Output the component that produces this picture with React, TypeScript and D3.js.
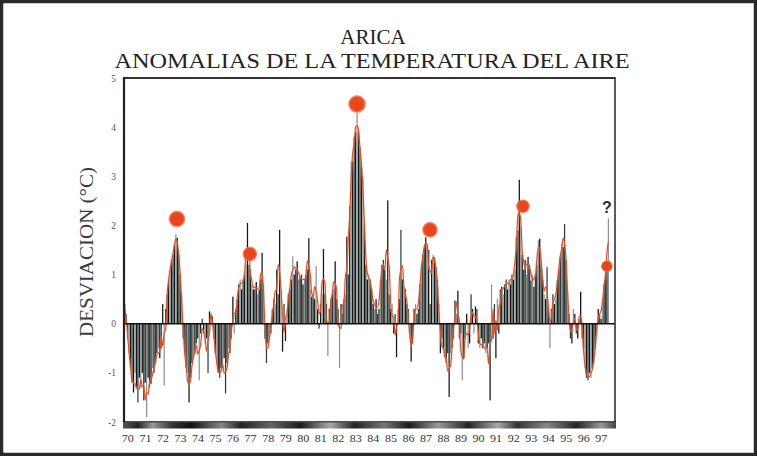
import React from 'react';
import * as d3 from 'd3';

// Monthly air-temperature anomalies at Arica (°C), January to December of each year.
const anom1970 = [0.4, 0.2, -0.3, -0.6, -0.9, -1.2, -1.4, -1.0, -1.3, -1.6, -1.1, -1.3];
const anom1971 = [-1.0, -1.56, -1.2, -1.9, -1.1, -1.3, -1.22, -0.9, -1.0, -0.8, -0.6, -0.5];
const anom1972 = [-0.7, -0.5, 0.4, -1.26, 0.3, 0.6, 0.9, 1.1, 1.3, 1.4, 1.6, 1.82];
const anom1973 = [1.75, 1.4, 1.0, 0.6, -0.3, -0.6, -0.9, -1.0, -1.6, -1.1, -0.8, -0.7];
const anom1974 = [-0.6, -0.4, -0.3, -1.15, -0.2, 0.1, -0.2, -0.4, -0.3, -1.0, 0.25, 0.2];
const anom1975 = [0.15, -0.3, -0.6, -0.8, -1.0, -1.1, -0.9, -0.9, -0.7, -1.42, -0.8, -0.5];
const anom1976 = [-0.6, -0.3, 0.55, -0.2, 0.3, 0.5, 0.8, 0.9, 0.7, 0.9, 1.0, 1.2];
const anom1977 = [2.05, 1.2, 1.1, 0.8, 0.7, 0.7, 0.85, 0.6, 0.7, 0.9, 1.44, 0.8];
const anom1978 = [-0.3, -0.8, -0.4, -0.3, -0.2, 0.3, 0.5, 0.4, 1.1, 0.6, 1.91, 0.7];
const anom1979 = [-0.57, 0.4, -0.35, 0.3, 0.6, 0.7, 0.9, 1.37, 1.0, 1.1, 1.27, 0.9];
const anom1980 = [0.95, 1.0, 0.8, 0.9, 1.0, 1.1, 1.74, 0.7, 0.55, 0.6, 0.5, 1.17];
const anom1981 = [0.3, -0.1, 0.4, 0.6, 1.52, 0.6, 0.4, -0.66, 0.3, 0.5, 0.6, 0.7];
const anom1982 = [1.27, 0.5, 0.3, -0.9, 0.4, 0.2, 0.5, 0.6, 1.77, 1.0, 2.4, 3.3];
const anom1983 = [3.3, 3.8, 3.9, 4.29, 3.9, 3.6, 3.2, 3.0, 2.0, 1.2, 0.9, 1.0];
const anom1984 = [0.9, 0.7, 0.4, 0.3, 0.5, 0.2, 0.3, 0.9, 1.2, 1.3, 1.1, 0.9];
const anom1985 = [2.51, 0.6, 0.3, 0.4, -0.2, 0.2, -0.68, 0.3, 0.5, 1.91, 0.9, 0.75];
const anom1986 = [0.7, 0.4, 0.3, -0.2, -0.77, -0.4, 0.3, 0.4, 0.2, 0.3, 0.8, 1.2];
const anom1987 = [1.4, 1.55, 1.76, 1.6, 1.5, 0.4, 1.3, 1.4, 1.35, 1.15, 0.9, 0.4];
const anom1988 = [-0.6, -0.3, -0.5, -0.7, -0.8, -0.6, -1.49, -0.6, -0.5, -0.3, 0.47, 0.2];
const anom1989 = [0.67, -0.3, -0.2, -1.15, -0.7, -0.3, 0.2, -0.5, -0.4, 0.6, 0.3, -0.2];
const anom1990 = [0.35, 0.3, -0.4, -0.5, -0.3, -0.5, -0.4, -0.6, -0.5, -0.4, -1.56, 0.8];
const anom1991 = [-0.3, 0.4, -0.7, 0.5, -0.2, 0.7, 0.75, 0.6, 0.8, 0.9, 0.7, 0.9];
const anom1992 = [0.8, 1.0, 0.9, 1.1, 1.76, 1.9, 2.93, 1.97, 1.4, 1.1, 1.3, 1.0];
const anom1993 = [1.36, 1.2, 0.88, 1.0, 0.75, 1.0, 1.2, 1.7, 1.73, 1.2, 0.9, 0.6];
const anom1994 = [0.5, 1.15, 0.3, -0.5, 0.3, 0.6, 0.4, 0.5, 0.88, 1.1, 1.36, 1.63];
const anom1995 = [1.56, 2.03, 1.3, 0.6, 0.2, -0.3, -0.4, 0.3, 0.2, -0.2, -0.3, 0.1];
const anom1996 = [0.65, -0.3, -0.5, -0.9, -1.1, -1.15, -1.0, -1.1, -0.9, -0.8, -0.5, -0.2];
const anom1997 = [0.3, 0.2, 0.1, 0.5, 0.8, 1.0, 1.2, 2.14];

const yearlyAnomalies = [
  anom1970, anom1971, anom1972, anom1973, anom1974, anom1975, anom1976,
  anom1977, anom1978, anom1979, anom1980, anom1981, anom1982, anom1983,
  anom1984, anom1985, anom1986, anom1987, anom1988, anom1989, anom1990,
  anom1991, anom1992, anom1993, anom1994, anom1995, anom1996, anom1997,
];

// Warm events marked with a dot (decimal year, anomaly °C)
const eventTimes = [1973.02, 1977.18, 1983.29, 1987.45, 1992.75, 1997.54];
const eventValues = [2.13, 1.42, 4.47, 1.91, 2.39, 1.17];

const yearLabels = [
  '70', '71', '72', '73', '74', '75', '76', '77', '78', '79', '80', '81', '82', '83',
  '84', '85', '86', '87', '88', '89', '90', '91', '92', '93', '94', '95', '96', '97',
];
const yTicks = [-2, -1, 0, 1, 2, 3, 4, 5];

const W = 757;
const H = 456;
const plot = { left: 124, right: 615, top: 78, bottom: 422 };
const dotRadii = [8.5, 7.5, 9, 8, 7, 6];
const barColors = ['#121212', '#2c403c', '#121212', '#8c9492'];
const serif = "'Liberation Serif', 'Times New Roman', serif";

export default function App() {
  const x = d3.scaleLinear().domain([1970, 1998]).range([plot.left, plot.right]);
  const y = d3.scaleLinear().domain([-2, 5]).range([plot.bottom, plot.top]);

  const months: { t: number; v: number }[] = [];
  yearlyAnomalies.forEach((vals, yi) => {
    vals.forEach((v, m) => months.push({ t: 1970 + yi + (m + 0.5) / 12, v }));
  });

  // three-month centred running mean
  const smoothed = months.map((d, i) => {
    const win = months.slice(Math.max(0, i - 1), Math.min(months.length, i + 2));
    return { t: d.t, v: d3.mean(win, (w) => w.v) as number };
  });

  const line = d3
    .line<{ t: number; v: number }>()
    .x((d) => x(d.t))
    .y((d) => y(d.v))
    .curve(d3.curveMonotoneX);

  const barW = 1.25;
  const y0 = y(0);

  // band under the plot, mottled grey/black
  const bandStops = [
    [0, '#555'], [0.03, '#222'], [0.06, '#999'], [0.1, '#333'], [0.14, '#111'],
    [0.2, '#888'], [0.24, '#222'], [0.3, '#666'], [0.36, '#1a1a1a'], [0.42, '#aaa'],
    [0.47, '#222'], [0.53, '#777'], [0.58, '#1a1a1a'], [0.64, '#999'], [0.7, '#222'],
    [0.76, '#aaa'], [0.8, '#333'], [0.86, '#888'], [0.92, '#222'], [0.97, '#999'], [1, '#444'],
  ] as [number, string][];

  return (
    <svg
      width={W}
      height={H}
      viewBox={`0 0 ${W} ${H}`}
      style={{ position: 'absolute', left: 0, top: 0, background: '#fff' }}
    >
      <defs>
        <linearGradient id="band" x1="0" x2="1" y1="0" y2="0">
          {bandStops.map(([o, c], i) => (
            <stop key={i} offset={o} stopColor={c} />
          ))}
        </linearGradient>
        <radialGradient id="dot">
          <stop offset="0" stopColor="#e8401a" />
          <stop offset="0.75" stopColor="#e94a22" />
          <stop offset="1" stopColor="#f07a55" stopOpacity="0.6" />
        </radialGradient>
        <filter id="soft" x="-20%" y="-20%" width="140%" height="140%">
          <feGaussianBlur stdDeviation="0.25" />
        </filter>
      </defs>

      <rect x={0} y={0} width={W} height={H} fill="#fff" />
      <rect x={1.5} y={1.5} width={W - 3} height={H - 3} fill="none" stroke="#2a2a2a" strokeWidth={3.5} />

      {/* titles */}
      <text x={373} y={44} textAnchor="middle" fontFamily={serif} fontSize={21} fill="#222">
        ARICA
      </text>
      <text
        x={372}
        y={68}
        textAnchor="middle"
        fontFamily={serif}
        fontSize={21}
        fill="#222"
        textLength={515}
        lengthAdjust="spacingAndGlyphs"
      >
        ANOMALIAS DE LA TEMPERATURA DEL AIRE
      </text>

      {/* y axis title */}
      <text
        transform={`translate(93,252) rotate(-90)`}
        textAnchor="middle"
        fontFamily={serif}
        fontSize={19}
        fill="#3a3a3a"
        textLength={170}
        lengthAdjust="spacingAndGlyphs"
      >
        DESVIACION (°C)
      </text>

      {/* y tick labels */}
      {yTicks.map((t) => (
        <text
          key={t}
          x={116}
          y={y(t) + 3.5}
          textAnchor="end"
          fontFamily={serif}
          fontSize={9.5}
          fill="#555"
        >
          {t}
        </text>
      ))}

      {/* monthly bars */}
      <g filter="url(#soft)">
        {months.map((d, i) => (
          <rect
            key={i}
            x={x(d.t) - barW / 2}
            y={Math.min(y(d.v), y0)}
            width={barW}
            height={Math.abs(y(d.v) - y0)}
            fill={barColors[i % barColors.length]}
          />
        ))}
      </g>

      {/* smoothed anomaly */}
      <path d={line(smoothed) || ''} fill="none" stroke="#f2a58c" strokeWidth={2.4} strokeOpacity={0.3} />
      <path d={line(smoothed) || ''} fill="none" stroke="#d84e26" strokeWidth={1.1} />

      {/* zero line */}
      <line x1={plot.left} x2={plot.right} y1={y0} y2={y0} stroke="#111" strokeWidth={1.4} />

      {/* frame */}
      <line x1={plot.left} x2={plot.right} y1={plot.top} y2={plot.top} stroke="#333" strokeWidth={2} />
      <line x1={plot.left} x2={plot.left} y1={plot.top - 1} y2={plot.bottom} stroke="#222" strokeWidth={2.2} />
      <line x1={plot.right} x2={plot.right} y1={plot.top - 1} y2={plot.bottom} stroke="#333" strokeWidth={1.6} />
      <line x1={plot.left - 1} x2={plot.right + 1} y1={plot.bottom} y2={plot.bottom} stroke="#111" strokeWidth={1.5} />
      <rect x={plot.left - 1} y={plot.bottom + 0.5} width={plot.right - plot.left + 2} height={6} fill="url(#band)" />

      {/* year labels */}
      {yearLabels.map((lab, i) => (
        <text
          key={lab}
          x={x(1970 + i + 0.22)}
          y={442}
          textAnchor="middle"
          fontFamily={serif}
          fontSize={11}
          fill="#333"
          textLength={12}
          lengthAdjust="spacingAndGlyphs"
        >
          {lab}
        </text>
      ))}

      {/* warm event dots */}
      {eventTimes.map((t, i) => (
        <circle key={i} cx={x(t)} cy={y(eventValues[i])} r={dotRadii[i]} fill="url(#dot)" />
      ))}

      <text
        x={x(eventTimes[5])}
        y={213}
        textAnchor="middle"
        fontFamily="'Liberation Sans', Arial, sans-serif"
        fontWeight="bold"
        fontSize={16}
        fill="#2a2a2a"
      >
        ?
      </text>
    </svg>
  );
}
